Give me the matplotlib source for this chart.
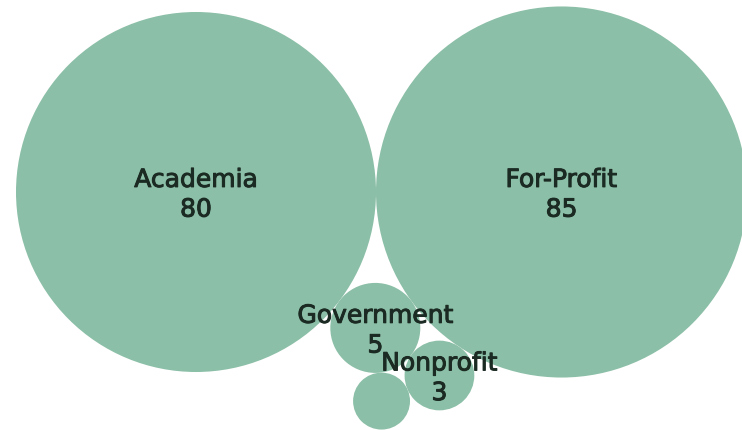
import numpy as np
import matplotlib
matplotlib.use("Agg")
import matplotlib.pyplot as plt
import matplotlib.patheffects as pe
from matplotlib.patches import Circle

# Sector counts shown as packed bubbles (area proportional to count)
categories = ["Academia", "For-Profit", "Government", "Nonprofit", "Other"]
counts = [80, 85, 5, 3, 2]

BUBBLE_COLOR = "#8bbfa7"
TEXT_COLOR = "#1b2a23"
MIN_LABEL_RADIUS = 1.5  # bubbles smaller than this stay unlabeled

radii = np.sqrt(np.array(counts, dtype=float))


def touching(c1, r1, c2, r2, r, side):
    """Center of a circle of radius r tangent to circles (c1, r1) and (c2, r2)."""
    d1, d2 = r1 + r, r2 + r
    v = c2 - c1
    d = np.hypot(*v)
    u = v / d
    a = (d ** 2 + d1 ** 2 - d2 ** 2) / (2 * d)
    h = np.sqrt(max(d1 ** 2 - a ** 2, 0.0))
    n = np.array([-u[1], u[0]])
    return c1 + a * u + side * h * n


# Pack: two large bubbles side by side, smaller ones tucked underneath
centers = [None] * len(categories)
centers[0] = np.array([0.0, 0.0])
centers[1] = np.array([radii[0] + radii[1], 0.0])
centers[2] = touching(centers[0], radii[0], centers[1], radii[1], radii[2], -1)
centers[3] = touching(centers[2], radii[2], centers[1], radii[1], radii[3], -1)
centers[4] = touching(centers[2], radii[2], centers[3], radii[3], radii[4], -1)

fig = plt.figure(figsize=(7.42, 4.31), dpi=100)
ax = fig.add_axes([0, 0, 1, 1])
ax.set_axis_off()

for name, value, c, r in zip(categories, counts, centers, radii):
    ax.add_patch(Circle(c, r, facecolor=BUBBLE_COLOR, edgecolor="none"))

for name, value, c, r in zip(categories, counts, centers, radii):
    if r >= MIN_LABEL_RADIUS:
        ax.annotate(f"{name}\n{value}", xy=(c[0], c[1]), xytext=(0, -2),
                    textcoords="offset points", ha="center", va="center",
                    fontsize=18, color=TEXT_COLOR, family="DejaVu Sans",
                    linespacing=1.3,
                    path_effects=[pe.withStroke(linewidth=0.7,
                                                foreground=TEXT_COLOR)])

# Viewport in bubble units (pixels per unit = 180 / sqrt(80))
px = 180 / np.sqrt(80)
ax.set_xlim(-196 / px, (742 - 196) / px)
ax.set_ylim(-(431 - 193) / px, 193 / px)
ax.set_aspect("equal")

fig.savefig("out.png", dpi=100, facecolor="white")
